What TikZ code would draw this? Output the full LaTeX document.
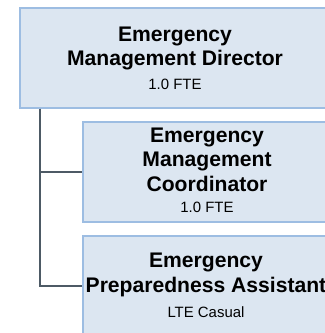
\documentclass[tikz,border=0pt]{standalone}
\usepackage{fontspec}
\setmainfont{Liberation Sans}
\definecolor{boxfill}{HTML}{DCE6F1}
\definecolor{boxline}{HTML}{9DBDE2}
\definecolor{connline}{HTML}{4D5A65}
\begin{document}
\begin{tikzpicture}[x=1bp,y=1bp,
  orgbox/.style={draw=boxline, line width=1.5bp, fill=boxfill, minimum width=340bp,
    minimum height=100bp, inner sep=0pt, anchor=north west},
  orgtext/.style={inner sep=0pt, align=center,
    font=\fontsize{21.2}{24.5}\selectfont\bfseries},
  conn/.style={draw=connline, line width=2.5bp}]
\useasboundingbox (0,0) rectangle (325,-333);
\node[orgbox] (dir) at (19,-7) {};
\node[orgbox] (coord) at (82,-121) {};
\node[orgbox] (asst) at (82,-235) {};
\node[orgtext] (dirtext) at (175,-58)
  {Emergency\\Management Director\\[-1pt]{\fontsize{15}{18}\selectfont\mdseries 1.0 FTE}};
\node[orgtext] (coordtext) at (207,-170.5)
  {Emergency\\Management\\Coordinator\\[-3pt]{\fontsize{15}{18}\selectfont\mdseries 1.0 FTE}};
\node[orgtext] (assttext) at (206,-285.5)
  {Emergency\\Preparedness Assistant\\[1pt]{\fontsize{15}{18}\selectfont\mdseries LTE Casual}};
\coordinate (trunk) at ([xshift=21bp]dir.south west);
\draw[conn] (trunk) |- (coord.west);
\draw[conn] (trunk) |- (asst.west);
\end{tikzpicture}
\end{document}
